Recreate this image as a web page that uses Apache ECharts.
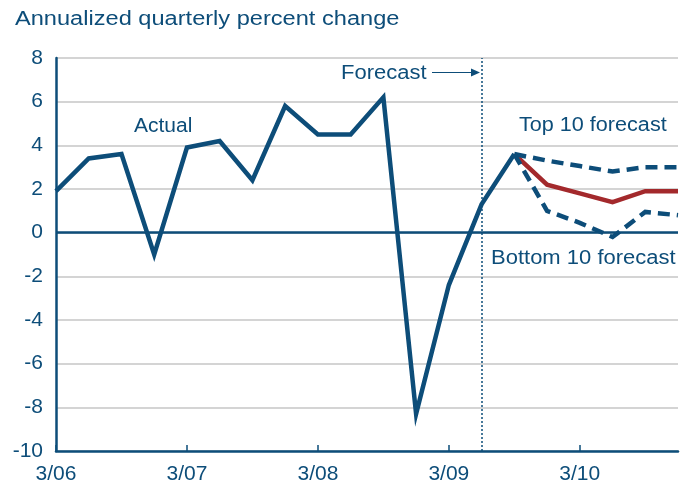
<!DOCTYPE html>
<html>
<head>
<meta charset="utf-8">
<script src="https://cdn.jsdelivr.net/npm/echarts@6/dist/echarts.min.js"></script>
<style>
  html, body { margin: 0; padding: 0; background: #fff; }
  #chart { width: 690px; height: 487px; }
</style>
</head>
<body>
<div id="chart"></div>
<script>
// quarters 3/06 .. 12/10
const quarters = [
  '3/06', '6/06', '9/06', '12/06',
  '3/07', '6/07', '9/07', '12/07',
  '3/08', '6/08', '9/08', '12/08',
  '3/09', '6/09', '9/09', '12/09',
  '3/10', '6/10', '9/10', '12/10'
]
const actual = [1.9, 3.4, 3.6, -1.0, 3.9, 4.2, 2.4, 5.8, 4.5, 4.5, 6.2, -8.3, -2.4, 1.3, 3.6, null, null, null, null, null]
const consensus = [null, null, null, null, null, null, null, null, null, null, null, null, null, null, 3.6, 2.2, 1.8, 1.4, 1.9, 1.9]
const top10 = [null, null, null, null, null, null, null, null, null, null, null, null, null, null, 3.6, 3.3, 3.05, 2.8, 3.0, 3.0]
const bottom10 = [null, null, null, null, null, null, null, null, null, null, null, null, null, null, 3.6, 1.0, 0.45, -0.2, 0.95, 0.8]
const forecastStart = '6/09'
const yTicks = { min: -10, max: 8, interval: 2 }

const BLUE = '#0d4d79'
const RED = '#a3292c'
const FONT = "'Liberation Sans', Arial, sans-serif"

const chart = echarts.init(document.getElementById('chart'))

function note(text, x, y, sx) {
  return {
    type: 'text',
    x: x,
    y: y,
    scaleX: sx,
    style: {
      text: text,
      font: '20px ' + FONT,
      fill: BLUE,
      textVerticalAlign: 'middle'
    }
  }
}

chart.setOption({
  animation: false,
  grid: { left: 56, right: 12, top: 58, bottom: 36 },
  xAxis: {
    type: 'category',
    data: quarters,
    boundaryGap: false,
    axisLine: { onZero: false, lineStyle: { color: BLUE, width: 2.5 } },
    axisTick: {
      inside: true,
      length: 6,
      interval: (i) => i % 4 === 0,
      lineStyle: { color: BLUE, width: 1.5 }
    },
    axisLabel: {
      interval: (i) => i % 4 === 0,
      color: BLUE,
      fontFamily: FONT,
      fontSize: 21,
      margin: 13
    },
    splitLine: { show: false }
  },
  yAxis: {
    type: 'value',
    min: yTicks.min,
    max: yTicks.max,
    interval: yTicks.interval,
    axisLine: { show: true, lineStyle: { color: BLUE, width: 2.5 } },
    axisTick: { show: false },
    axisLabel: { color: BLUE, fontFamily: FONT, fontSize: 21, margin: 13 },
    splitLine: { lineStyle: { color: '#c6c6c6', width: 1.5 } }
  },
  series: [
    {
      name: 'Consensus',
      type: 'line',
      data: consensus,
      showSymbol: false,
      lineStyle: { color: RED, width: 4.5, join: 'miter' }
    },
    {
      name: 'Top 10',
      type: 'line',
      data: top10,
      showSymbol: false,
      lineStyle: { color: BLUE, width: 4.5, type: [12, 7], join: 'miter' }
    },
    {
      name: 'Bottom 10',
      type: 'line',
      data: bottom10,
      showSymbol: false,
      lineStyle: { color: BLUE, width: 4.5, type: [12, 7], join: 'miter' }
    },
    {
      name: 'Actual',
      type: 'line',
      data: actual,
      showSymbol: false,
      z: 5,
      lineStyle: { color: BLUE, width: 4.5, join: 'miter' },
      markLine: {
        silent: true,
        symbol: 'none',
        label: { show: false },
        data: [
          { yAxis: 0, lineStyle: { color: BLUE, width: 2.5, type: 'solid' } },
          { xAxis: forecastStart, lineStyle: { color: BLUE, width: 1.5, type: [2, 2] } }
        ]
      }
    }
  ],
  graphic: [
    {
      type: 'text',
      x: 15,
      y: 19,
      scaleX: 1.18,
      style: {
        text: 'Annualized quarterly percent change',
        font: '20px ' + FONT,
        fill: BLUE,
        textVerticalAlign: 'middle'
      }
    },
    note('Actual', 134, 126, 1.05),
    note('Forecast', 341, 73, 1.1),
    note('Top 10 forecast', 519, 125, 1.08),
    note('Bottom 10 forecast', 491, 258, 1.1),
    {
      type: 'line',
      shape: { x1: 432, y1: 72.5, x2: 476, y2: 72.5 },
      style: { stroke: BLUE, lineWidth: 1.2 }
    },
    {
      type: 'polygon',
      shape: { points: [[480, 72.5], [471, 68.5], [471, 76.5]] },
      style: { fill: BLUE }
    }
  ]
})
</script>
</body>
</html>
